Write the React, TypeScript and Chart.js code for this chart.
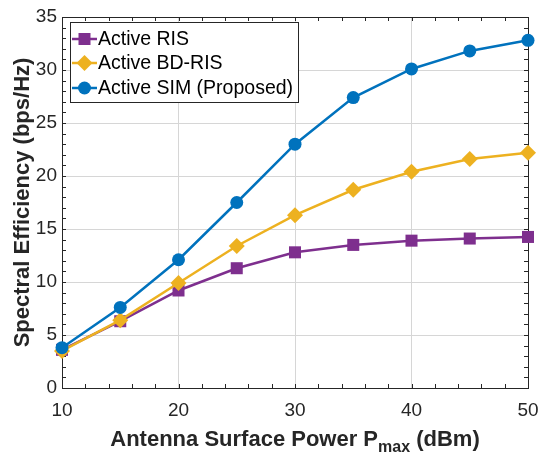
import React, { useEffect, useRef } from 'react';
import { Chart, registerables } from 'chart.js';

Chart.register(...registerables);

const xValues = [10, 15, 20, 25, 30, 35, 40, 45, 50];
const activeRIS = [3.6, 6.3, 9.2, 11.3, 12.8, 13.5, 13.9, 14.1, 14.25];
const activeBDRIS = [3.5, 6.4, 9.9, 13.4, 16.3, 18.7, 20.4, 21.6, 22.2];
const activeSIM = [3.8, 7.6, 12.1, 17.5, 23.0, 27.4, 30.1, 31.8, 32.8];
const seriesNames = ['Active RIS', 'Active BD-RIS', 'Active SIM (Proposed)'];
const seriesColors = ['#7E2F8E', '#EDB120', '#0072BD'];
const seriesMarkers = ['rect', 'rectRot', 'circle'];
const xMin = 10, xMax = 50, xStep = 10, xMinorStep = 2;
const yMin = 0, yMax = 35, yStep = 5, yMinorStep = 1;
const xTitle = 'Antenna Surface Power P';
const xTitleSub = 'max';
const xTitleTail = ' (dBm)';
const yTitle = 'Spectral Efficiency (bps/Hz)';

const FONT = '"Liberation Sans", Arial, Helvetica, sans-serif';
const AXIS = '#262626';

function drawMarker(ctx: CanvasRenderingContext2D, style: string, x: number, y: number, color: string) {
  ctx.save();
  ctx.fillStyle = color;
  ctx.beginPath();
  if (style === 'rect') {
    const s = 6;
    ctx.rect(x - s, y - s, 2 * s, 2 * s);
  } else if (style === 'rectRot') {
    const r = 8;
    ctx.moveTo(x - r, y);
    ctx.lineTo(x, y - r);
    ctx.lineTo(x + r, y);
    ctx.lineTo(x, y + r);
    ctx.closePath();
  } else {
    ctx.arc(x, y, 6.5, 0, Math.PI * 2);
  }
  ctx.fill();
  ctx.restore();
}

const framePlugin = {
  id: 'frame',
  beforeDatasetsDraw(chart: any) {
    const { ctx, chartArea, scales } = chart;
    const { left, right, top, bottom } = chartArea;
    const L = 4;
    ctx.save();
    ctx.strokeStyle = AXIS;
    ctx.lineWidth = 1;
    ctx.beginPath();
    for (let v = xMin; v <= xMax + 1e-9; v += xMinorStep) {
      const px = Math.round(scales.x.getPixelForValue(v)) + 0.5;
      ctx.moveTo(px, bottom);
      ctx.lineTo(px, bottom - L);
      ctx.moveTo(px, top);
      ctx.lineTo(px, top + L);
    }
    for (let v = yMin; v <= yMax + 1e-9; v += yMinorStep) {
      const py = Math.round(scales.y.getPixelForValue(v)) + 0.5;
      ctx.moveTo(left, py);
      ctx.lineTo(left + L, py);
      ctx.moveTo(right, py);
      ctx.lineTo(right - L, py);
    }
    ctx.stroke();
    ctx.strokeRect(Math.round(left) + 0.5, Math.round(top) + 0.5, Math.round(right - left), Math.round(bottom - top));
    ctx.restore();
  },
  afterDraw(chart: any) {
    const { ctx, chartArea } = chart;
    const { left, right, top, bottom } = chartArea;
    ctx.save();
    // legend
    const bx = 70, by = 22, bw = 228, bh = 80;
    ctx.fillStyle = '#ffffff';
    ctx.fillRect(bx, by, bw, bh);
    ctx.strokeStyle = AXIS;
    ctx.lineWidth = 1;
    ctx.strokeRect(bx + 0.5, by + 0.5, bw, bh);
    const rows = [39, 63, 88];
    seriesNames.forEach((name, i) => {
      const yy = rows[i];
      ctx.strokeStyle = seriesColors[i];
      ctx.lineWidth = 2.5;
      ctx.beginPath();
      ctx.moveTo(72, yy);
      ctx.lineTo(97, yy);
      ctx.stroke();
      drawMarker(ctx, seriesMarkers[i], 84.5, yy, seriesColors[i]);
      ctx.fillStyle = '#000000';
      ctx.font = `19.5px ${FONT}`;
      ctx.textBaseline = 'middle';
      ctx.textAlign = 'left';
      ctx.fillText(name, 98, yy + 1);
    });
    // x title
    ctx.fillStyle = AXIS;
    ctx.textBaseline = 'alphabetic';
    const mainFont = `bold 22px ${FONT}`;
    const subFont = `bold 16px ${FONT}`;
    ctx.font = mainFont;
    const w1 = ctx.measureText(xTitle).width;
    const w3 = ctx.measureText(xTitleTail).width;
    ctx.font = subFont;
    const w2 = ctx.measureText(xTitleSub).width;
    const total = w1 + w2 + w3;
    let sx = (left + right) / 2 - total / 2;
    const baseY = 446;
    ctx.font = mainFont;
    ctx.textAlign = 'left';
    ctx.fillText(xTitle, sx, baseY);
    sx += w1;
    ctx.font = subFont;
    ctx.fillText(xTitleSub, sx, baseY + 6);
    sx += w2;
    ctx.font = mainFont;
    ctx.fillText(xTitleTail, sx, baseY);
    // y title
    ctx.save();
    ctx.translate(28.5, (top + bottom) / 2);
    ctx.rotate(-Math.PI / 2);
    ctx.font = mainFont;
    ctx.textAlign = 'center';
    ctx.textBaseline = 'alphabetic';
    ctx.fillText(yTitle, 0, 0);
    ctx.restore();
    ctx.restore();
  },
};

export default function App() {
  const ref = useRef<HTMLCanvasElement | null>(null);
  useEffect(() => {
    document.body.style.margin = '0';
    const canvas = ref.current!;
    const seriesData = [activeRIS, activeBDRIS, activeSIM];
    const chart = new Chart(canvas, {
      type: 'line',
      data: {
        datasets: seriesData.map((vals, i) => ({
          label: seriesNames[i],
          data: xValues.map((x, k) => ({ x, y: vals[k] })),
          borderColor: seriesColors[i],
          backgroundColor: seriesColors[i],
          borderWidth: 2.5,
          pointStyle: seriesMarkers[i] as any,
          pointRadius: seriesMarkers[i] === 'rect' ? 8.5 : seriesMarkers[i] === 'rectRot' ? 8 : 6.5,
          pointBorderWidth: 0,
          pointBackgroundColor: seriesColors[i],
          tension: 0,
          clip: false as any,
          order: 3 - i,
        })),
      },
      options: {
        responsive: false,
        animation: false,
        devicePixelRatio: 1,
        layout: { padding: { left: 0, top: 17, right: 13, bottom: 0 } },
        plugins: { legend: { display: false }, tooltip: { enabled: false } },
        events: [],
        scales: {
          x: {
            type: 'linear',
            min: xMin,
            max: xMax,
            afterFit(scale: any) {
              scale.height = 64;
              scale.paddingLeft = 0;
              scale.paddingRight = 0;
            },
            ticks: {
              stepSize: xStep,
              padding: 11,
              color: AXIS,
              font: { family: FONT, size: 19 },
              maxRotation: 0,
            },
            grid: { color: '#d6d6d6', lineWidth: 1, drawTicks: false },
            border: { display: false },
          },
          y: {
            type: 'linear',
            min: yMin,
            max: yMax,
            afterFit(scale: any) {
              scale.width = 62;
              scale.paddingTop = 0;
              scale.paddingBottom = 0;
            },
            ticks: {
              stepSize: yStep,
              padding: 5,
              color: AXIS,
              font: { family: FONT, size: 19 },
            },
            grid: { color: '#d6d6d6', lineWidth: 1, drawTicks: false },
            border: { display: false },
          },
        },
      },
      plugins: [framePlugin],
    });
    return () => chart.destroy();
  }, []);
  return <canvas ref={ref} width={541} height={452} style={{ display: 'block' }} />;
}
